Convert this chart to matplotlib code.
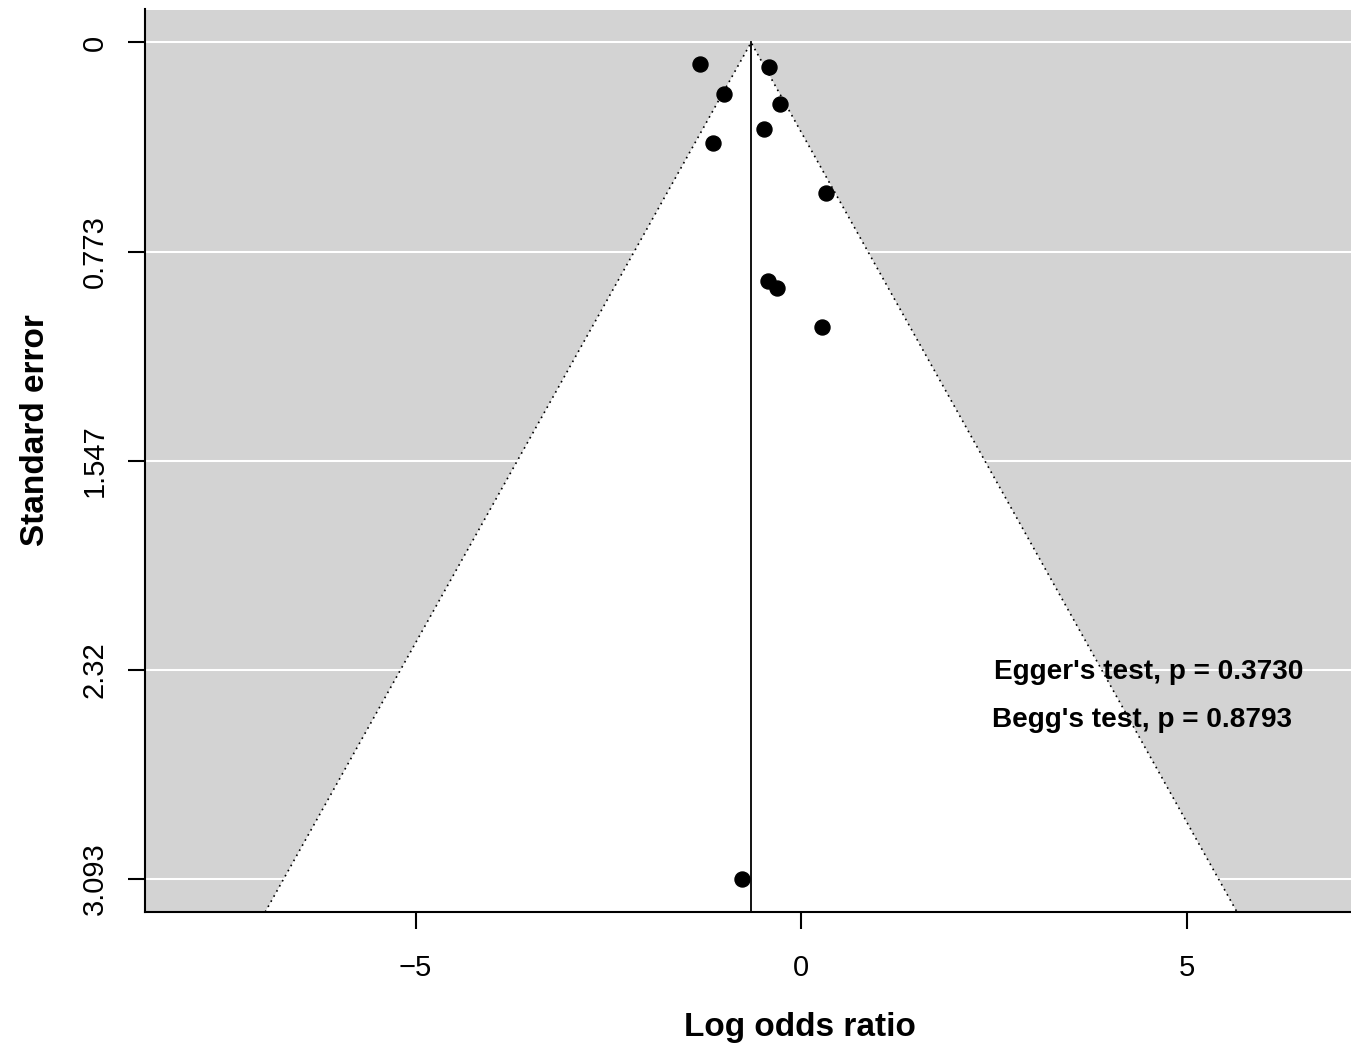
import numpy as np
import matplotlib.pyplot as plt

plt.rcParams['font.family'] = ['Liberation Sans', 'DejaVu Sans']

# study estimates (log odds ratio) and their standard errors
LOG_OR = [-1.31, -0.415, -1.00, -0.27, -0.48, -1.14, 0.32, -0.43, -0.31, 0.27, -0.765]
SE = [0.078, 0.089, 0.192, 0.229, 0.321, 0.370, 0.558, 0.883, 0.909, 1.053, 3.093]
POOLED = -0.65
Y_TICKS = [0, 0.773, 1.547, 2.32, 3.093]
Y_TICK_LABELS = ["0", "0.773", "1.547", "2.32", "3.093"]
X_TICKS = [-5, 0, 5]
EGGER_P = "0.3730"
BEGG_P = "0.8793"

fig = plt.figure(figsize=(13.51, 10.47), dpi=100)
ax = fig.add_axes([145 / 1351, 1 - 912 / 1047, (1351 - 145) / 1351, (912 - 9.5) / 1047])

xmin, xmax = -8.51, 7.13
ymin, ymax = -0.122, 3.215
ax.set_xlim(xmin, xmax)
ax.set_ylim(ymax, ymin)
ax.set_facecolor('#d3d3d3')

# grid lines at the se ticks
for yt in Y_TICKS:
    ax.axhline(yt, color='white', lw=1.5, zorder=1)

# funnel region
half = 1.96 * ymax
ax.fill([POOLED, POOLED - half, POOLED + half], [0, ymax, ymax],
        color='white', zorder=2, lw=0)
ax.plot([POOLED - half, POOLED, POOLED + half], [ymax, 0, ymax],
        color='black', ls=(0, (1, 2.5)), lw=1.2, zorder=3)
ax.plot([POOLED, POOLED], [0, ymax], color='black', lw=1.3, zorder=3)

ax.plot(LOG_OR, SE, 'o', color='black', ms=10.8, zorder=4)

ax.text(4.51, 2.328, "Egger's test, p = " + EGGER_P, ha='center', va='center',
        fontsize=20.2, fontweight='bold', zorder=5)
ax.text(4.42, 2.505, "Begg's test, p = " + BEGG_P, ha='center', va='center',
        fontsize=20.2, fontweight='bold', zorder=5)

ax.spines['top'].set_visible(False)
ax.spines['right'].set_visible(False)
for s in ('left', 'bottom'):
    ax.spines[s].set_linewidth(1.5)

ax.set_xticks(X_TICKS)
ax.set_xticklabels(["\u22125", "0", "5"])
ax.set_yticks(Y_TICKS)
ax.set_yticklabels(Y_TICK_LABELS, rotation=90, va='center')
ax.tick_params(axis='both', length=12, width=1.5, labelsize=21)
ax.tick_params(axis='x', pad=18)
ax.tick_params(axis='y', pad=14)

ax.set_xlabel("Log odds ratio", fontsize=24, fontweight='bold')
ax.set_ylabel("Standard error", fontsize=24, fontweight='bold')
ax.xaxis.set_label_coords(0.543, -0.111)
ax.yaxis.set_label_coords(-0.078, 0.534)

fig.savefig('out.png', dpi=100)
